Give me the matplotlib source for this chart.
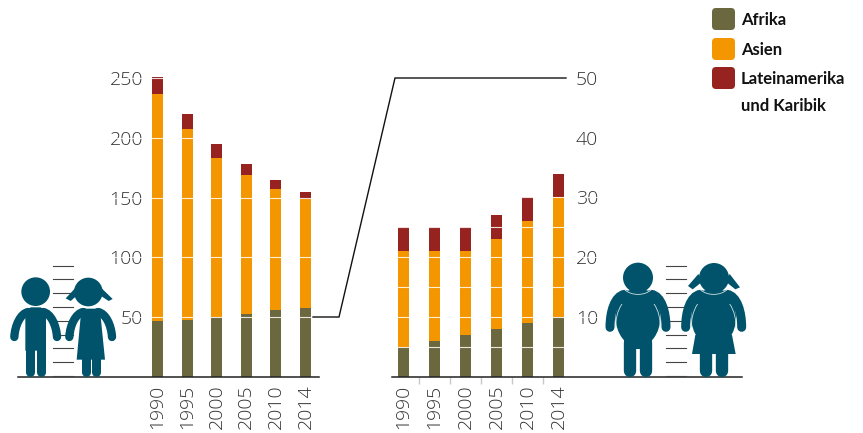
import matplotlib
matplotlib.use("Agg")
import matplotlib.pyplot as plt
from matplotlib.patches import Circle, Ellipse, FancyBboxPatch, PathPatch, Polygon
from matplotlib.path import Path

W, H = 863, 433

years = ["1990", "1995", "2000", "2005", "2010", "2014"]

# Kinder mit Untergewicht (links)
afrika_left = [46.5, 47.5, 50, 52, 56, 57.5]
asien_left = [190.5, 160, 133, 117, 101, 91.5]
latein_left = [14, 12.5, 12, 9, 8, 6]
ticks_left = [50, 100, 150, 200, 250]

# Kinder mit Uebergewicht (rechts)
afrika_right = [5, 6, 7, 8, 9, 10]
asien_right = [16, 15, 14, 15, 17, 20]
latein_right = [4, 4, 4, 4, 4, 4]
ticks_right = [10, 20, 30, 40, 50]
grid_right = [5, 10, 15, 20, 25, 30]

OLIVE = "#6b673f"
ORANGE = "#f49600"
RED = "#962320"
TEAL = "#00536a"
TEXT = "#333333"
BASE_Y = 376.5
PX_PER_UNIT_LEFT = 1.193
PX_PER_UNIT_RIGHT = 5.97
PT = 0.72
FS = 14

plt.rcParams["font.family"] = ["Open Sans", "DejaVu Sans"]

fig = plt.figure(figsize=(W / 100, H / 100), dpi=100)


def draw_stack(ax, afrika, asien, latein):
    pos = range(len(years))
    bottom2 = [a + b for a, b in zip(afrika, asien)]
    ax.bar(pos, afrika, width=ax.bar_w, color=OLIVE, zorder=2)
    ax.bar(pos, asien, bottom=afrika, width=ax.bar_w, color=ORANGE, zorder=2)
    ax.bar(pos, latein, bottom=bottom2, width=ax.bar_w, color=RED, zorder=2)
    for s in ["top", "left", "right"]:
        ax.spines[s].set_visible(False)
    ax.spines["bottom"].set_color("#222222")
    ax.spines["bottom"].set_linewidth(1.1)
    ax.set_xticks(list(pos))
    ax.set_xticklabels(years, rotation=90, fontsize=FS, color=TEXT, fontweight="light")
    ax.tick_params(axis="x", length=0, pad=6)
    ax.patch.set_alpha(0)


# linkes Diagramm
x0, x1 = 18, 319
top = 60
ax1 = fig.add_axes([x0 / W, (H - BASE_Y) / H, (x1 - x0) / W, (BASE_Y - top) / H])
step1 = 29.6
ax1.bar_w = 11 / step1
ax1.set_xlim((x0 - 157.5) / step1, (x1 - 157.5) / step1)
ax1.set_ylim(0, (BASE_Y - top) / PX_PER_UNIT_LEFT)
draw_stack(ax1, afrika_left, asien_left, latein_left)
ax1.set_yticks(ticks_left)
ax1.tick_params(axis="y", length=0, pad=-(143 - x0) * PT, labelsize=FS, labelcolor=TEXT)
for v in ticks_left:
    ax1.axhline(v, color="white", lw=0.8, alpha=0.85, zorder=3)

# rechtes Diagramm
x0, x1 = 392, 742
ax2 = fig.add_axes([x0 / W, (H - BASE_Y) / H, (x1 - x0) / W, (BASE_Y - top) / H])
step2 = 31
ax2.bar_w = 11 / step2
ax2.set_xlim((x0 - 403.5) / step2, (x1 - 403.5) / step2)
ax2.set_ylim(0, (BASE_Y - top) / PX_PER_UNIT_RIGHT)
draw_stack(ax2, afrika_right, asien_right, latein_right)
ax2.set_xticks([i + 0.5 for i in range(5)], minor=True)
ax2.tick_params(axis="x", which="minor", length=5, width=1, color="#c8c8c8")
ax2.yaxis.tick_right()
ax2.set_yticks(ticks_right)
ax2.tick_params(axis="y", length=0, pad=-(x1 - 576) * PT, labelsize=FS, labelcolor=TEXT)
for v in grid_right:
    ax2.axhline(v, color="white", lw=0.8, alpha=0.85, zorder=3)

for ax in (ax1, ax2):
    for lab in ax.get_yticklabels():
        lab.set_fontweight("light")

# Ebene in Pixelkoordinaten fuer Verbinder, Legende und Figuren
ov = fig.add_axes([0, 0, 1, 1], zorder=5)
ov.set_xlim(0, W)
ov.set_ylim(H, 0)
ov.axis("off")

ov.plot([313, 339, 395, 566], [317, 317, 78, 78], color="#111111", lw=1.0, solid_joinstyle="miter")

# Legende
legend_names = ["Afrika", "Asien", "Lateinamerika"]
legend_colors = [OLIVE, ORANGE, RED]
legend_y = [8, 38, 67]
for name, col, y in zip(legend_names, legend_colors, legend_y):
    ov.add_patch(FancyBboxPatch((714.5, y + 2.5), 18, 17, boxstyle="round,pad=2.5,rounding_size=4",
                                fc=col, ec="none"))
    ov.text(741, y + 12, name, fontsize=12, fontweight="bold", color="#111111",
            va="center", family=["Lato", "DejaVu Sans"])
ov.text(741, 106, "und Karibik", fontsize=12, fontweight="bold", color="#111111",
        va="center", family=["Lato", "DejaVu Sans"])


def ruler(x_a, x_b):
    for y in [265.7, 279.4, 293.2, 307, 320.8, 334.6, 348.4, 362.2, 376]:
        ov.plot([x_a, x_b], [y, y], color="#444444", lw=0.8, zorder=1)


def limb(pts, width, ox, oy, color=TEAL, cap="round"):
    # pts in 3x-Zoomkoordinaten, 4 Punkte = Bezier, sonst Gerade
    xy = [(ox + p[0] / 3, oy + p[1] / 3) for p in pts]
    codes = [Path.MOVETO, Path.CURVE4, Path.CURVE4, Path.CURVE4] if len(xy) == 4 else None
    patch = PathPatch(Path(xy, codes), fc="none", ec=color, lw=width / 3 * PT, capstyle=cap, zorder=3)
    ov.add_patch(patch)


def poly(pts, ox, oy):
    xy = [(ox + p[0] / 3, oy + p[1] / 3) for p in pts]
    ov.add_patch(Polygon(xy, closed=True, fc=TEAL, ec="none", zorder=3))


def head(cx, cy, r, ox, oy):
    ov.add_patch(Circle((ox + cx / 3, oy + cy / 3), r / 3, fc=TEAL, ec="none", zorder=3))


def slim_arms(cx, ox, oy):
    limb([(cx - 22, 246), (cx - 45, 250), (cx - 62, 285), (cx - 64, 321)], 25, ox, oy)
    limb([(cx + 22, 246), (cx + 45, 250), (cx + 62, 285), (cx + 64, 321)], 25, ox, oy)


ruler(53, 73)
ruler(666, 686)

# normalgewichtige Kinder (Koordinaten aus dem Zoom, Ursprung 0/230)
ox, oy = 0, 230
head(107, 185, 43, ox, oy)
poly([(76, 245), (92, 232), (122, 232), (138, 245), (138, 362), (76, 362)], ox, oy)
slim_arms(107, ox, oy)
limb([(90, 355), (90, 426)], 27, ox, oy)
limb([(124, 355), (124, 426)], 27, ox, oy)

head(265, 186, 43, ox, oy)
poly([(197, 205), (228, 172), (236, 192), (212, 213)], ox, oy)
poly([(338, 207), (302, 172), (294, 192), (326, 213)], ox, oy)
poly([(250, 236), (294, 236), (302, 260), (315, 389), (230, 389), (242, 260)], ox, oy)
slim_arms(272, ox, oy)
limb([(257, 385), (257, 426)], 27, ox, oy)
limb([(288, 385), (288, 426)], 27, ox, oy)


def fat_arms(cx, ox, oy):
    limb([(cx - 40, 163), (cx - 70, 168), (cx - 84, 215), (cx - 84, 262)], 27, ox, oy)
    limb([(cx + 40, 163), (cx + 70, 168), (cx + 84, 215), (cx + 84, 262)], 27, ox, oy)


def fat_trunk(cx, ox, oy):
    ov.add_patch(Ellipse((ox + cx / 3, oy + 232 / 3), 134 / 3, 176 / 3, fc=TEAL, ec="none", zorder=3))
    poly([(cx - 40, 152), (cx + 40, 152), (cx + 60, 190), (cx - 60, 190)], ox, oy)


def fat_lines(cx, ox, oy):
    # feine weisse Linien an Hals und Armen
    limb([(cx - 40, 149), (cx - 20, 168), (cx + 20, 168), (cx + 40, 149)], 2.5, ox, oy, color="#cfe0e4", cap="butt")
    limb([(cx - 48, 192), (cx - 62, 212), (cx - 68, 240), (cx - 66, 262)], 2.5, ox, oy, color="#cfe0e4", cap="butt")
    limb([(cx + 48, 192), (cx + 62, 212), (cx + 68, 240), (cx + 66, 262)], 2.5, ox, oy, color="#cfe0e4", cap="butt")


# uebergewichtige Kinder (Ursprung 590/240)
ox, oy = 590, 240
fat_trunk(144, ox, oy)
fat_arms(144, ox, oy)
poly([(101, 300), (187, 300), (187, 326), (101, 326)], ox, oy)
limb([(119, 310), (119, 392)], 37, ox, oy)
limb([(169, 310), (169, 392)], 37, ox, oy)
head(144, 113, 45, ox, oy)
fat_lines(144, ox, oy)

fat_trunk(371, ox, oy)
fat_arms(371, ox, oy)
poly([(316, 285), (426, 285), (437, 342), (306, 342)], ox, oy)
limb([(347, 335), (347, 392)], 37, ox, oy)
limb([(396, 335), (396, 392)], 37, ox, oy)
head(372, 114, 45, ox, oy)
poly([(294, 138), (325, 102), (338, 124), (308, 148)], ox, oy)
poly([(450, 142), (419, 102), (406, 124), (436, 148)], ox, oy)
fat_lines(371, ox, oy)

fig.savefig("out.png", dpi=100)
